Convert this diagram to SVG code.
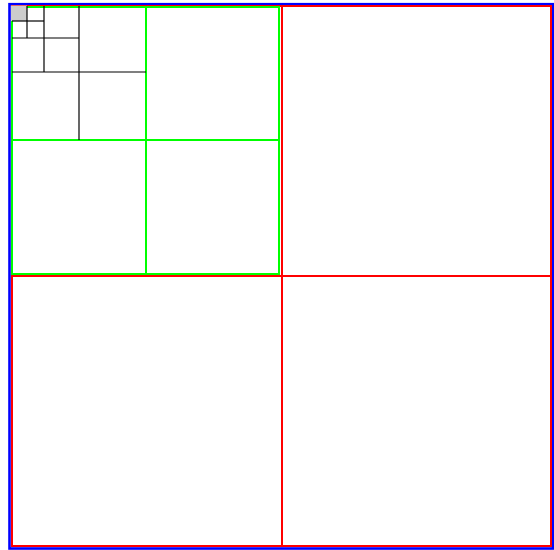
<svg xmlns="http://www.w3.org/2000/svg" width="554" height="550" viewBox="0 0 554 550">
<style>
.red{fill:none;stroke:#ff0000;stroke-width:2}
.green{fill:none;stroke:#00ff00;stroke-width:2}
.blk{fill:none;stroke:#000;stroke-width:1.2}
</style>
<rect width="554" height="550" fill="#fff"/>
<g id="outer"><rect x="9.5" y="4.2" width="543.5" height="544.3" fill="none" stroke="#0000ff" stroke-width="2.6"/></g>
<g id="level1">
<rect class="red" x="12" y="6" width="270" height="270"/>
<rect class="red" x="282" y="6" width="269" height="270"/>
<rect class="red" x="12" y="276" width="270" height="270"/>
<rect class="red" x="282" y="276" width="269" height="270"/>
</g>
<g id="level2">
<rect class="green" x="12" y="7" width="134" height="133"/>
<rect class="green" x="146" y="7" width="133" height="133"/>
<rect class="green" x="12" y="140" width="134" height="134"/>
<rect class="green" x="146" y="140" width="133" height="134"/>
</g>
<g id="level3">
<rect x="11" y="5.5" width="16" height="15.5" fill="#cccccc"/>
<line class="blk" x1="79" y1="6" x2="79" y2="140"/>
<line class="blk" x1="12" y1="72" x2="146" y2="72"/>
<line class="blk" x1="44" y1="6" x2="44" y2="72"/>
<line class="blk" x1="12" y1="38" x2="79" y2="38"/>
<line class="blk" x1="27" y1="6" x2="27" y2="38"/>
<line class="blk" x1="12" y1="21" x2="44" y2="21"/>
</g>
</svg>
